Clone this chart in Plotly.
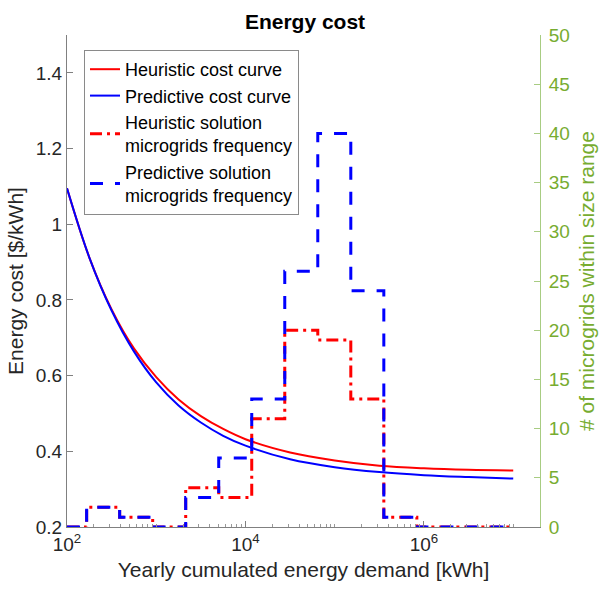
import plotly.graph_objects as go

# ---- data ----
demand_kwh = [100, 178, 316, 562, 1000, 1778, 3162, 5623, 10000, 31623,
              100000, 316228, 1000000, 3162278, 10000000]
heuristic_cost = [1.095, 0.912, 0.775, 0.672, 0.596, 0.537, 0.493, 0.459, 0.432,
                  0.397, 0.376, 0.362, 0.355, 0.351, 0.349]
predictive_cost = [1.095, 0.912, 0.772, 0.664, 0.582, 0.521, 0.476, 0.441, 0.415,
                   0.379, 0.358, 0.345, 0.337, 0.332, 0.328]

hist_start = 100
bin_edges = [166, 389, 912, 2138, 5012, 11749, 27542, 64565, 151356, 354813,
             831764, 1949845, 4570882, 10000000]
heuristic_counts = [2, 1, 0, 4, 3, 11, 20, 19, 13, 1, 0, 0, 0]
predictive_counts = [2, 1, 0, 3, 7, 13, 26, 40, 24, 1, 0, 0, 0]

x_tickvals = [1e2, 1e4, 1e6]
x_ticktext = ["10<sup>2</sup>", "10<sup>4</sup>", "10<sup>6</sup>"]
x_minor = [m * 10 ** d for d in range(2, 8) for m in range(1, 10) if m * 10 ** d <= 2e7]
left_ticks = [0.2, 0.4, 0.6, 0.8, 1.0, 1.2, 1.4]
left_ticktext = ["0.2", "0.4", "0.6", "0.8", "1", "1.2", "1.4"]
right_ticks = list(range(0, 51, 5))

FONT = "Liberation Sans, Arial, Helvetica, sans-serif"
GREEN = "#77AC30"
DARK = "#262626"

hx = [hist_start] + bin_edges
hy_h = [0] + heuristic_counts + [0]
hy_p = [0] + predictive_counts + [0]

fig = go.Figure()
fig.add_trace(go.Scatter(x=demand_kwh, y=heuristic_cost, mode="lines",
                         line=dict(color="#FF0000", width=2, shape="spline"),
                         name="Heuristic cost curve"))
fig.add_trace(go.Scatter(x=demand_kwh, y=predictive_cost, mode="lines",
                         line=dict(color="#0000FF", width=2, shape="spline"),
                         name="Predictive cost curve"))
fig.add_trace(go.Scatter(x=hx, y=hy_h, mode="lines", yaxis="y2",
                         line=dict(color="#FF0000", width=3, shape="hv",
                                   dash="12px,5px,3px,5px"),
                         name="Heuristic solution<br>microgrids frequency"))
fig.add_trace(go.Scatter(x=hx, y=hy_p, mode="lines", yaxis="y2",
                         line=dict(color="#0000FF", width=3, shape="hv",
                                   dash="13px,12px"),
                         name="Predictive solution<br>microgrids frequency"))

fig.update_layout(
    width=599, height=593,
    margin=dict(l=67, r=59, t=35, b=66, pad=0, autoexpand=False),
    paper_bgcolor="white", plot_bgcolor="white",
    font=dict(family=FONT, size=19, color=DARK),
    title=dict(text="<b>Energy cost</b>", x=(305) / 599, xanchor="center",
               y=1 - 22 / 593, yanchor="middle", yref="container",
               font=dict(size=21, color="black", family=FONT)),
    xaxis=dict(type="log", range=[2, 7.3], showgrid=False, zeroline=False,
               showline=True, linecolor="#808080", linewidth=1, automargin=False,
               ticks="inside", ticklen=6, tickcolor="#808080",
               tickmode="array", tickvals=x_tickvals, ticktext=x_ticktext,
               tickfont=dict(size=19, color=DARK),
               minor=dict(ticks="inside", ticklen=3, tickcolor="#999999",
                          tickmode="array", tickvals=x_minor),
               title=dict(text="Yearly cumulated energy demand [kWh]",
                          font=dict(size=21, color=DARK), standoff=8)),
    yaxis=dict(range=[0.2, 1.5], showgrid=False, zeroline=False,
               showline=True, linecolor="#808080", linewidth=1, automargin=False,
               ticks="inside", ticklen=6, tickcolor="#808080",
               tickmode="array", tickvals=left_ticks, ticktext=left_ticktext,
               tickfont=dict(size=19, color=DARK),
               title=dict(text="Energy cost [$/kWh]",
                          font=dict(size=21, color=DARK), standoff=6)),
    yaxis2=dict(range=[0, 50], overlaying="y", side="right", anchor="x",
                showgrid=False, zeroline=False, automargin=False,
                showline=True, linecolor="#A8CC82", linewidth=1,
                ticks="inside", ticklen=6, tickcolor="#A8CC82",
                tickmode="array", tickvals=right_ticks, ticklabelstandoff=4,
                tickfont=dict(size=19, color=GREEN),
                title=dict(text="# of microgrids within size range",
                           font=dict(size=21, color=GREEN), standoff=10)),
    legend=dict(x=(84 - 67) / 473, y=(527 - 50) / 492, xanchor="left", yanchor="top",
                bgcolor="white", bordercolor="#8a8a8a", borderwidth=1,
                font=dict(size=18, color="black", family=FONT),
                tracegroupgap=0, itemwidth=30),
    showlegend=True,
)

fig.write_html("out.html")
